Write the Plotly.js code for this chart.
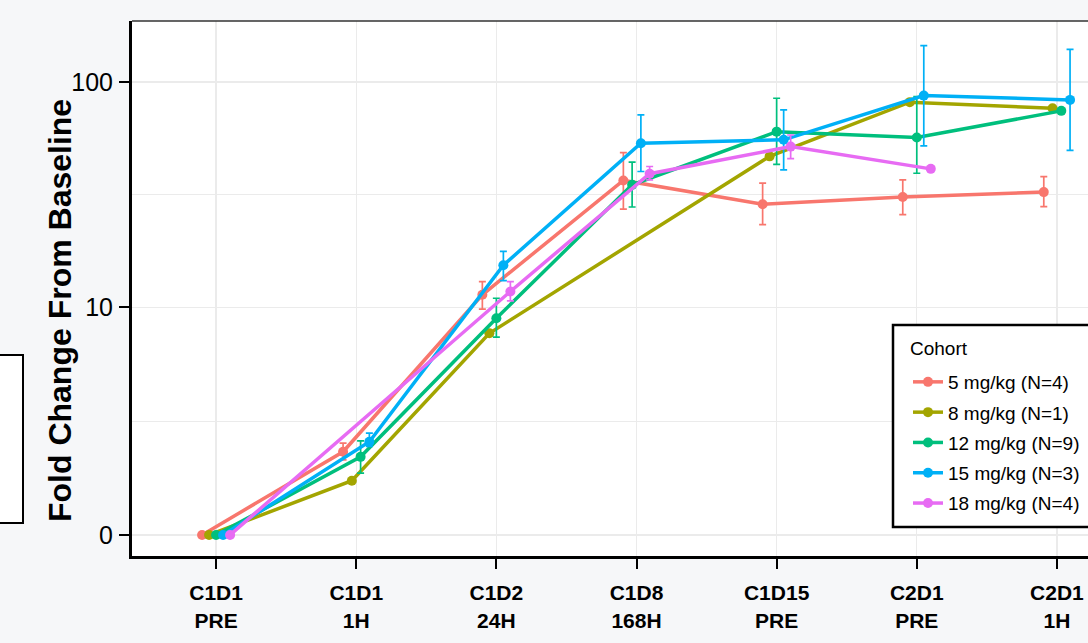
<!DOCTYPE html>
<html>
<head>
<meta charset="utf-8">
<script src="https://cdn.plot.ly/plotly-3.0.1.min.js"></script>
<style>
html, body { margin: 0; padding: 0; overflow: hidden; background: #f6f7f9; }
#chart { width: 1150px; height: 643px; }
</style>
</head>
<body>
<div id="chart"></div>
<script>
// ---- data ----
const tickLabels = ["C1D1<br>PRE", "C1D1<br>1H", "C1D2<br>24H", "C1D8<br>168H", "C1D15<br>PRE", "C2D1<br>PRE", "C2D1<br>1H"];
const legendTitle = "Cohort";
const cohortNames = ["5 mg/kg (N=4)", "8 mg/kg (N=1)", "12 mg/kg (N=9)", "15 mg/kg (N=3)", "18 mg/kg (N=4)"];
const cohortColors = ["#F8766D", "#A3A500", "#00BF7D", "#00B0F6", "#E76BF3"];

const mean5  = [0, 1.90, 11.4, 36.7, 28.8, 31.0, 32.6];
const upper5 = [null, 2.15, 13.05, 48.7, 35.7, 36.9, 38.2];
const lower5 = [null, 1.68, 9.82, 27.4, 23.4, 25.9, 28.1];

const mean8  = [0, 1.16, 7.64, null, 46.9, 81.4, 76.5];
const upper8 = [null, null, null, null, null, null, null];
const lower8 = [null, null, null, null, null, null, null];

const mean12  = [0, 1.76, 8.94, 35.1, 60.3, 56.8, 74.5];
const upper12 = [null, 2.22, 11.0, 44.2, 84.7, 86.1, null];
const lower12 = [null, 1.34, 7.33, 28.0, 43.2, 39.5, null];

const mean15  = [0, 2.19, 15.45, 53.6, 55.5, 87.0, 83.3];
const upper15 = [null, 2.46, 17.8, 71.5, 75.2, 144.5, 139.3];
const lower15 = [null, 2.05, 13.2, 40.2, 40.9, 52.2, 49.8];

const mean18  = [0, null, 11.8, 39.3, 51.8, 41.3, null];
const upper18 = [null, null, 13.05, 42.3, 58.3, null, null];
const lower18 = [null, null, 10.7, 36.9, 45.8, null, null];

const yTickValues = [0, 10, 100];
const yTickLabels = ["0", "10", "100"];

// ---- build ----
const means = [mean5, mean8, mean12, mean15, mean18];
const uppers = [upper5, upper8, upper12, upper15, upper18];
const lowers = [lower5, lower8, lower12, lower15, lower18];

// pseudo-log transform (sigma = 1)
const tr = v => Math.asinh(v / 2) / Math.LN10;

const dodgeWidth = 0.25;
const traces = [];
means.forEach((m, ci) => {
  const xs = [], ys = [], ep = [], em = [];
  m.forEach((v, ti) => {
    if (v === null) return;
    const present = means.map((mm, k) => mm[ti] !== null ? k : -1).filter(k => k >= 0);
    const n = present.length;
    const rank = present.indexOf(ci);
    const off = (rank - (n - 1) / 2) * dodgeWidth / n;
    xs.push(ti + off);
    const ty = tr(v);
    ys.push(ty);
    const up = uppers[ci][ti], lo = lowers[ci][ti];
    ep.push(up === null ? 0 : tr(up) - ty);
    em.push(lo === null ? 0 : ty - tr(lo));
  });
  traces.push({
    type: "scatter",
    mode: "lines+markers",
    name: cohortNames[ci],
    legendgroup: "g" + ci,
    x: xs, y: ys,
    line: { color: cohortColors[ci], width: 3.5 },
    marker: { color: cohortColors[ci], size: 10 },
    error_y: {
      type: "data", symmetric: false, array: ep, arrayminus: em,
      color: cohortColors[ci], thickness: 1.7, width: 3.5
    }
  });
});

const majorT = yTickValues.map(tr);
const minorT = [];
for (let i = 0; i < majorT.length - 1; i++) minorT.push((majorT[i] + majorT[i + 1]) / 2);
minorT.push(majorT[majorT.length - 1] + (majorT[1] - majorT[0]) / 2);

const font = "Liberation Sans, Arial, sans-serif";
const plotW = 1009;
const px = x => (x - 132) / plotW;
const py = y => (556 - y) / 535;

const layout = {
  width: 1150, height: 643,
  margin: { l: 132, r: 9, t: 21, b: 87 },
  paper_bgcolor: "#f6f7f9",
  plot_bgcolor: "#ffffff",
  font: { family: font, color: "#000" },
  showlegend: true,
  xaxis: {
    range: [-0.6, 6.6],
    tickmode: "array",
    tickvals: tickLabels.map((_, i) => i),
    ticktext: tickLabels,
    tickfont: { size: 21, weight: "bold", family: font, color: "#000" },
    ticks: "outside", ticklen: 10, tickwidth: 2, tickcolor: "#000",
    showline: true, linecolor: "#000", linewidth: 3,
    showgrid: true, gridcolor: "#ebebeb", gridwidth: 1.3,
    zeroline: false,
    ticklabelstandoff: 6
  },
  yaxis: {
    range: [-0.093, 2.269],
    tickmode: "array",
    tickvals: majorT,
    ticktext: yTickLabels,
    tickfont: { size: 25, family: font, color: "#000" },
    ticks: "outside", ticklen: 10, tickwidth: 2, tickcolor: "#000",
    showline: true, linecolor: "#000", linewidth: 3,
    showgrid: true, gridcolor: "#ebebeb", gridwidth: 1.3,
    zeroline: false,
    ticklabelstandoff: 1,
    minor: { tickvals: minorT, showgrid: true, gridcolor: "#ebebeb", gridwidth: 1.3, ticks: "" }
  },
  legend: {
    x: px(908), y: py(363),
    xanchor: "left", yanchor: "top",
    bgcolor: "rgba(0,0,0,0)", borderwidth: 0,
    font: { size: 19, family: font, color: "#000" },
    tracegroupgap: 2.6,
    itemwidth: 30
  },
  annotations: [{
    text: "Fold Change From Baseline",
    xref: "paper", yref: "paper",
    x: px(60), y: py(311),
    xanchor: "center", yanchor: "middle",
    textangle: -90, showarrow: false,
    font: { size: 32, weight: "bold", family: font, color: "#000" }
  }, {
    text: legendTitle,
    xref: "paper", yref: "paper",
    x: px(908), y: py(348),
    xanchor: "left", yanchor: "middle",
    showarrow: false,
    font: { size: 19, family: font, color: "#000" }
  }],
  shapes: [
    { type: "line", xref: "paper", yref: "paper", x0: 0, x1: 1, y0: 1, y1: 1,
      line: { color: "#333", width: 1.5 } },
    { type: "rect", xref: "paper", yref: "paper", layer: "above",
      x0: px(893), x1: px(1135), y0: py(527), y1: py(325),
      line: { color: "#000", width: 2.5 }, fillcolor: "#ffffff" },
    { type: "rect", xref: "paper", yref: "paper",
      x0: px(-4), x1: px(23), y0: py(523), y1: py(355),
      line: { color: "#000", width: 2 }, fillcolor: "#ffffff" }
  ]
};

Plotly.newPlot("chart", traces, layout, { displayModeBar: false, staticPlot: true });
</script>
</body>
</html>
